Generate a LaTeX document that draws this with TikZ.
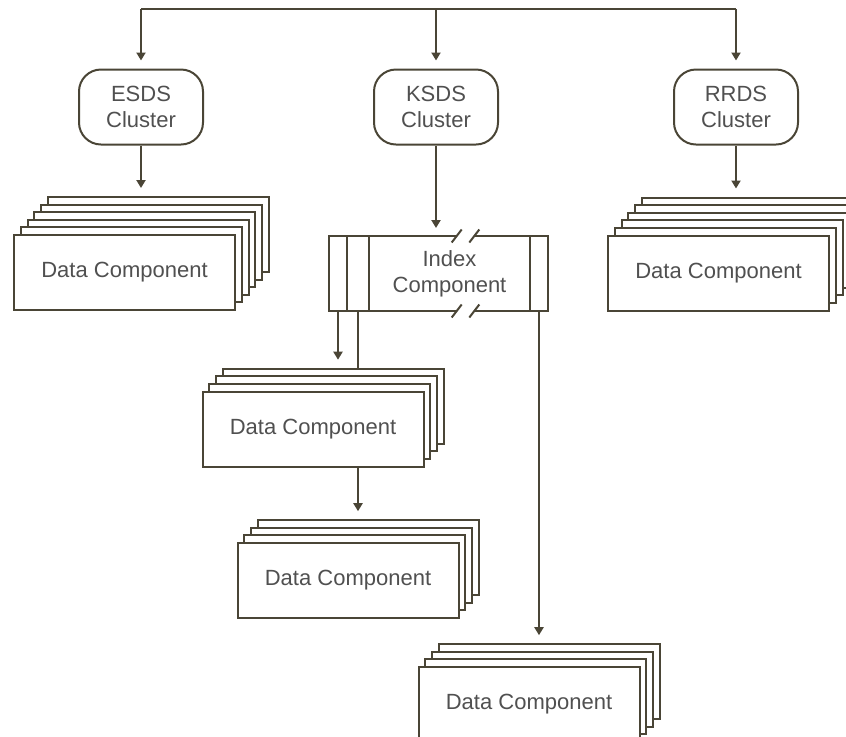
\documentclass[tikz,border=0pt]{standalone}
\usepackage{fontspec}
\setmainfont{Liberation Sans}
\usetikzlibrary{arrows.meta,positioning}
\definecolor{edgecol}{HTML}{4A4536}
\definecolor{textcol}{HTML}{505050}
\tikzset{%
  tipA/.tip={Triangle[length=4pt,width=4.5pt]},
  wire/.style={draw=edgecol, line width=1pt},
  flow/.style={wire, -tipA, shorten >=4pt},
  cluster/.style={wire, rounded corners=11pt, minimum width=62pt, minimum height=37.5pt,
    align=center, inner sep=0pt, text=textcol},
  dbox/.style={wire, fill=white, minimum width=110.5pt, minimum height=37.5pt,
    inner sep=0pt, text=textcol},
  ibox/.style={wire, minimum height=37.5pt, inner sep=0pt, outer sep=0pt,
    align=center, text=textcol}
}
% stack of data components: name, front centre, layers behind
\newcommand{\dstack}[3]{%
  \begin{scope}[shift={#2}]
    \foreach \k in {#3,...,1}
      \node[dbox] (#1-\k) at (\k*6.8,-\k*7.6) {};
    \node[dbox] (#1) at (0,0) {Data Component};
  \end{scope}
}

\begin{document}
\begin{tikzpicture}[x=0.5pt,y=-0.5pt,font=\fontsize{11}{12.8}\selectfont]
\useasboundingbox (0,0) rectangle (846,736);

% clusters
\coordinate (bus) at (436,9);
\node[cluster] (esds) at (141,107) {ESDS\\Cluster};
\node[cluster] (ksds) at (436,107) {KSDS\\Cluster};
\node[cluster] (rrds) at (736,107) {RRDS\\Cluster};

% data components
\dstack{esdsdata}{(124.5,272.5)}{5}
\dstack{rrdsdata}{(718.5,273)}{5}
\dstack{keyed1}{(313,429)}{3}
\dstack{keyed2}{(348,580.5)}{3}
\dstack{keyed3}{(529,704.5)}{3}

% index component
\node[ibox, minimum width=9pt] (idxa) at (338,273.5) {};
\node[ibox, minimum width=11pt, right=0pt of idxa] (idxb) {};
\node[ibox, minimum width=80.5pt, right=0pt of idxb] (index) {Index\\Component};
\node[ibox, minimum width=9pt, right=0pt of index] (idxc) {};
\fill[white] ([shift={(3.9pt,-1.5pt)}]index.north) rectangle ([shift={(12.3pt,1.5pt)}]index.north);
\fill[white] ([shift={(3.9pt,-1.5pt)}]index.south) rectangle ([shift={(12.3pt,1.5pt)}]index.south);
\foreach \a in {north,south}
  \foreach \s in {3.6pt,12.4pt}
    \draw[wire] ([shift={(\s-2.5pt,-3.25pt)}]index.\a) -- ++(5pt,6.5pt);

% connectors
\draw[wire] (esds |- bus) -- (rrds |- bus);
\foreach \c in {esds,ksds,rrds}
  \draw[flow] (\c |- bus) -- (\c);
\draw[flow] (esds) -- (esds |- esdsdata-5.north);
\draw[flow] (rrds) -- (rrds |- rrdsdata-5.north);
\draw[flow] (ksds) -- (ksds |- index.north);
\draw[flow] (idxa) -- (idxa |- keyed1-3.north);
\draw[wire] (idxb.south) -- (idxb |- keyed1-3.north);
\draw[flow] (idxb |- keyed1.south) -- (idxb |- keyed2-3.north);
\draw[flow] (idxc) -- (idxc |- keyed3-3.north);
\end{tikzpicture}
\end{document}
